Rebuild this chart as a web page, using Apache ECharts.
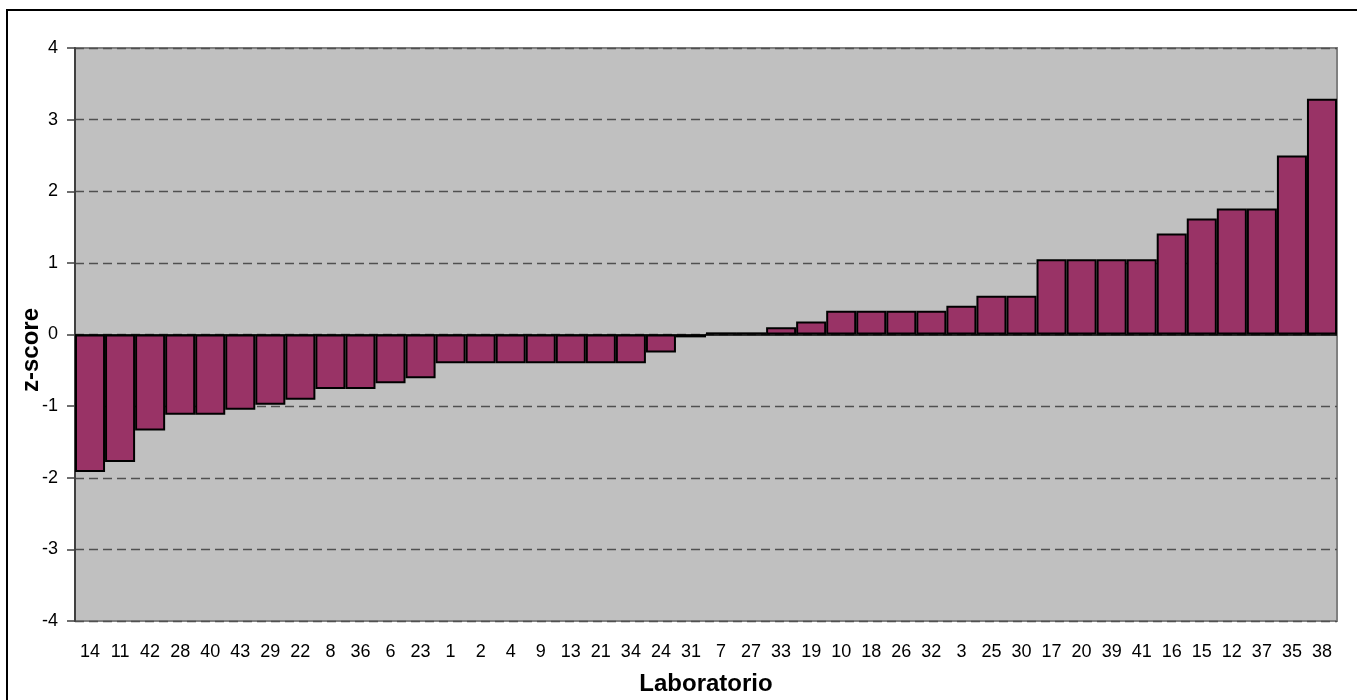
<!DOCTYPE html>
<html><head><meta charset="utf-8">
<script src="https://cdn.jsdelivr.net/npm/echarts@6/dist/echarts.min.js"></script>
<style>html,body{margin:0;padding:0;background:#fff}#c{width:1357px;height:700px}</style>
</head><body><div id="c"></div>
<script>
const categories = ['14','11','42','28','40','43','29','22','8','36','6','23','1','2','4','9','13','21','34','24','31','7','27','33','19','10','18','26','32','3','25','30','17','20','39','41','16','15','12','37','35','38'];
const zscores = [-1.92,-1.78,-1.34,-1.12,-1.12,-1.05,-0.98,-0.91,-0.76,-0.76,-0.68,-0.61,-0.40,-0.40,-0.40,-0.40,-0.40,-0.40,-0.40,-0.25,-0.04,0.03,0.03,0.10,0.18,0.33,0.33,0.33,0.33,0.40,0.54,0.54,1.05,1.05,1.05,1.05,1.41,1.62,1.76,1.76,2.50,3.29];
const yTicks = {min:-4, max:4, interval:1};
const xTitle = 'Laboratorio';
const yTitle = 'z-score';

const chart = echarts.init(document.getElementById('c'));
chart.setOption({
  animation:false,
  textStyle:{fontFamily:'Liberation Sans, Arial, sans-serif'},
  graphic:[
    {type:'rect',shape:{x:7,y:10,width:1400,height:720},style:{fill:null,stroke:'#000',lineWidth:2},silent:true},
    {type:'text',x:31,y:350,rotation:Math.PI/2,style:{text:yTitle,font:'bold 24px "Liberation Sans"',fill:'#000',textAlign:'center',textVerticalAlign:'middle'},silent:true},
    {type:'text',x:706,y:684,style:{text:xTitle,font:'bold 24px "Liberation Sans"',fill:'#000',textAlign:'center',textVerticalAlign:'middle'},silent:true}
  ],
  grid:{left:75,top:48,width:1262,height:573,show:true,backgroundColor:'#C0C0C0',borderColor:'#808080',borderWidth:2},
  xAxis:{type:'category',data:categories,
    axisLine:{show:false,onZero:false},axisTick:{show:false},
    axisLabel:{interval:0,color:'#000',fontSize:18,margin:22,fontFamily:'Liberation Sans'}},
  yAxis:{type:'value',min:yTicks.min,max:yTicks.max,interval:yTicks.interval,
    axisLine:{show:true,lineStyle:{color:'#404040',width:2}},
    axisTick:{show:true,length:8,lineStyle:{color:'#404040',width:1.5}},
    axisLabel:{color:'#000',fontSize:18,margin:17,fontFamily:'Liberation Sans'},
    splitLine:{show:true,lineStyle:{color:'#505050',type:[9,5],width:1.3}}},
  series:[{type:'bar',data:zscores,barCategoryGap:'0%',
    itemStyle:{color:'#993366',borderColor:'#000',borderWidth:2},
    markLine:{silent:true,symbol:'none',label:{show:false},lineStyle:{color:'#000',type:'solid',width:1.5},data:[{yAxis:0}]}
  }]
});
</script></body></html>
